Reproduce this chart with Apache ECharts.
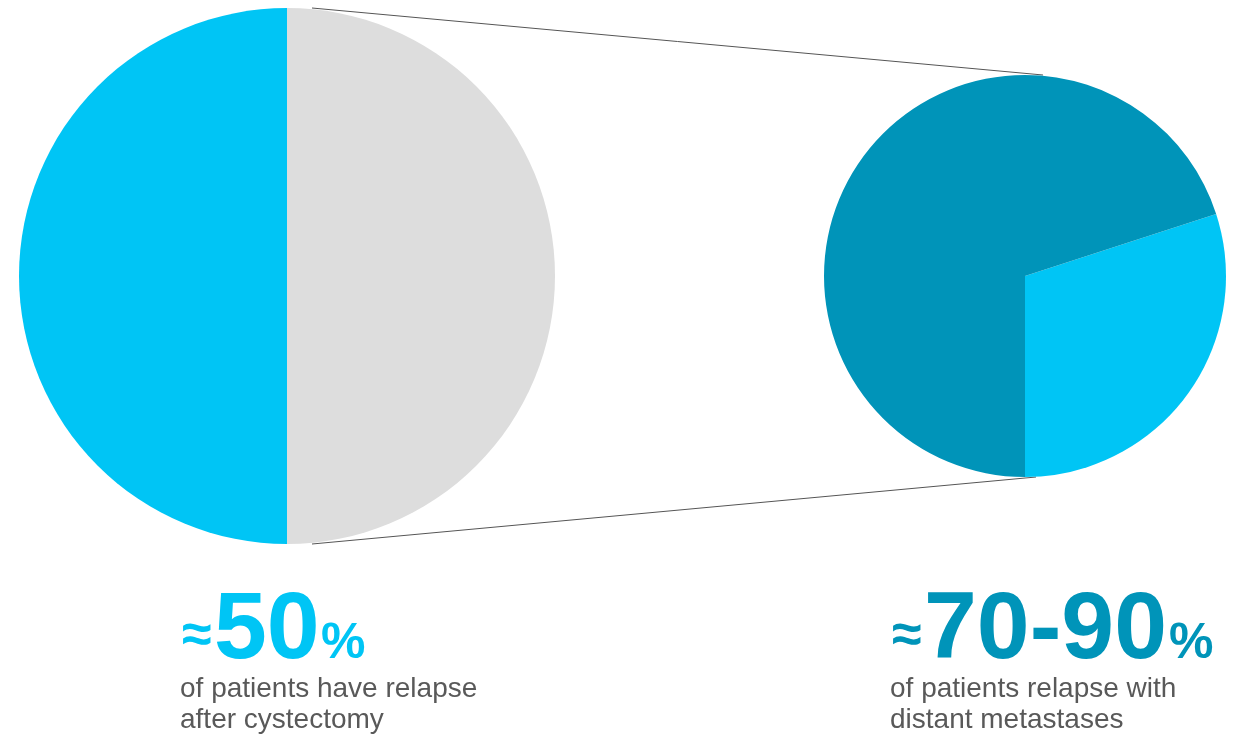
<!DOCTYPE html>
<html><head><meta charset="utf-8">
<script src="https://cdn.jsdelivr.net/npm/echarts@6/dist/echarts.min.js"></script>
<style>html,body{margin:0;padding:0;background:#fff}#c{width:1248px;height:735px}</style>
</head><body><div id="c"></div>
<script>
const leftNames = ['No relapse', 'Relapse'];
const leftValues = [50, 50];
const rightNames = ['Local relapse', 'Distant metastases'];
const rightValues = [30, 70];
const leftBig = '50';
const rightBig = '70-90';
const leftSub = ['of patients have relapse', 'after cystectomy'];
const rightSub = ['of patients relapse with', 'distant metastases'];

const CYAN = '#00C5F5', GRAY = '#DDDDDD', TEAL = '#0094B9', TXT = '#595959';
const F = '"Liberation Sans", Arial, sans-serif';

const chart = echarts.init(document.getElementById('c'));
function txt(x, y, text, size, color, bold) {
  return { type: 'text', x: x, y: y, silent: true,
    style: { text: text, fill: color, fontSize: size, fontFamily: F, fontWeight: bold ? 'bold' : 'normal', verticalAlign: 'bottom', align: 'left' } };
}
chart.setOption({
  animation: false,
  series: [
    { type: 'pie', center: [287, 276], radius: 268, startAngle: 90, clockwise: true, silent: true,
      label: { show: false }, labelLine: { show: false },
      data: leftNames.map((n, i) => ({ name: n, value: leftValues[i], itemStyle: { color: [GRAY, CYAN][i] } })) },
    { type: 'pie', center: [1025, 276], radius: 201, startAngle: 18, clockwise: true, silent: true,
      label: { show: false }, labelLine: { show: false },
      data: rightNames.map((n, i) => ({ name: n, value: rightValues[i], itemStyle: { color: [CYAN, TEAL][i] } })) }
  ],
  graphic: [
    { type: 'line', silent: true, shape: { x1: 312, y1: 8, x2: 1043, y2: 75 }, style: { stroke: '#555', lineWidth: 1 } },
    { type: 'line', silent: true, shape: { x1: 312, y1: 544, x2: 1036, y2: 477 }, style: { stroke: '#555', lineWidth: 1 } },
    txt(182, 664, '≈', 54, CYAN, true),
    txt(214, 679, leftBig, 95, CYAN, true),
    txt(321, 669, '%', 50, CYAN, true),
    txt(180, 703, leftSub[0], 28, TXT, false),
    txt(180, 734, leftSub[1], 28, TXT, false),
    txt(892, 664, '≈', 54, TEAL, true),
    txt(924, 679, rightBig, 95, TEAL, true),
    txt(1169, 669, '%', 50, TEAL, true),
    txt(890, 703, rightSub[0], 28, TXT, false),
    txt(890, 734, rightSub[1], 28, TXT, false)
  ]
});
</script></body></html>
